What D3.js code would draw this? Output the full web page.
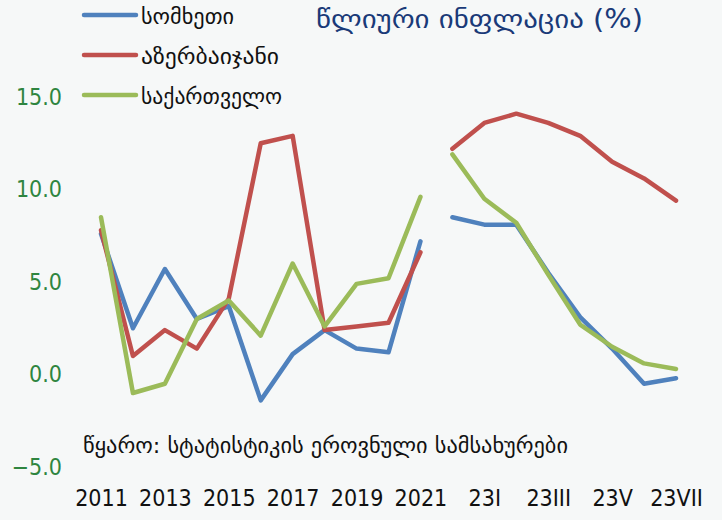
<!DOCTYPE html>
<html>
<head>
<meta charset="utf-8">
<script src="https://cdn.jsdelivr.net/npm/d3@7"></script>
<style>
  body { margin: 0; background: #f6f8f8; }
  svg { display: block; font-family: "DejaVu Sans Condensed", "DejaVu Sans", sans-serif; }
</style>
</head>
<body>
<div id="chart"></div>
<script>
/* annual inflation: Armenia, Azerbaijan, Georgia */

const years = ["2011", "2012", "2013", "2014", "2015", "2016", "2017", "2018", "2019", "2020", "2021"];
const months = ["22XII", "23I", "23II", "23III", "23IV", "23V", "23VI", "23VII"];
const categories = years.concat(months);

const seriesNames = ["სომხეთი", "აზერბაიჯანი", "საქართველო"];
const seriesColors = ["#4f81bd", "#c0504d", "#9bbb59"];

// yearly values
const armeniaYears = [7.6, 2.5, 5.7, 3.0, 3.7, -1.4, 1.1, 2.4, 1.4, 1.2, 7.2];
const azerbaijanYears = [7.8, 1.0, 2.4, 1.4, 4.1, 12.5, 12.9, 2.4, 2.6, 2.8, 6.6];
const georgiaYears = [8.5, -1.0, -0.5, 3.0, 4.0, 2.1, 6.0, 2.6, 4.9, 5.2, 9.6];

// monthly values
const armeniaMonths = [8.5, 8.1, 8.1, 5.5, 3.1, 1.4, -0.5, -0.2];
const azerbaijanMonths = [12.2, 13.6, 14.1, 13.6, 12.9, 11.5, 10.6, 9.4];
const georgiaMonths = [11.9, 9.5, 8.2, 5.4, 2.7, 1.5, 0.6, 0.3];

const yTicks = [-5, 0, 5, 10, 15];

const width = 722, height = 520;

let svg = d3.select("#chart")
    .append("svg")
    .attr("width", width)
    .attr("height", height);

svg.append("rect")
    .attr("width", width)
    .attr("height", height)
    .attr("fill", "#f6f8f8");

let x = d3.scalePoint()
    .domain(categories)
    .range([101, 676]);

let y = d3.scaleLinear()
    .domain([-5, 15])
    .range([467, 97]);

// y axis labels only, no line
svg.append("g")
    .attr("transform", "translate(62,0)")
    .call(d3.axisLeft(y).tickValues(yTicks).tickFormat(d3.format(".1f")).tickSize(0).tickPadding(0))
    .call(g => g.select(".domain").remove())
    .call(g => g.selectAll("text")
        .attr("fill", "#2e8540")
        .attr("font-size", 23)
        .attr("font-family", "DejaVu Sans Condensed"));

// x axis labels, every other category
svg.append("g")
    .attr("transform", "translate(0,490)")
    .call(d3.axisBottom(x).tickSize(0).tickPadding(0)
        .tickFormat((d, i) => i % 2 === 0 ? d : ""))
    .call(g => g.select(".domain").remove())
    .call(g => g.selectAll("text")
        .attr("fill", "#111")
        .attr("font-size", 23)
        .attr("font-family", "DejaVu Sans Condensed"));

const line = d3.line()
    .x(d => x(d.cat))
    .y(d => y(d.val));

const series = [
    [armeniaYears, armeniaMonths],
    [azerbaijanYears, azerbaijanMonths],
    [georgiaYears, georgiaMonths]
];

series.forEach((s, i) => {
    let parts = [
        years.map((c, j) => ({cat: c, val: s[0][j]})),
        months.map((c, j) => ({cat: c, val: s[1][j]}))
    ];
    parts.forEach(p => {
        svg.append("path")
            .datum(p)
            .attr("fill", "none")
            .attr("stroke", seriesColors[i])
            .attr("stroke-width", 4.5)
            .attr("stroke-linejoin", "round")
            .attr("stroke-linecap", "round")
            .attr("d", line);
    });
});

// legend
const legendWidths = [93, 138, 141]; // stretch georgian labels to match

let legend = svg.selectAll(".legend")
    .data(seriesNames)
    .join("g")
    .attr("class", "legend")
    .attr("transform", (d, i) => `translate(0, ${15 + i * 40})`);

legend.append("line")
    .attr("x1", 84).attr("x2", 136)
    .attr("stroke", (d, i) => seriesColors[i])
    .attr("stroke-width", 4.5)
    .attr("stroke-linecap", "round");

legend.append("text")
    .attr("x", 141)
    .attr("y", 9)
    .attr("font-size", 21)
    .attr("font-family", "DejaVu Sans")
    .attr("textLength", (d, i) => legendWidths[i])
    .attr("lengthAdjust", "spacingAndGlyphs")
    .attr("fill", "#111")
    .text(d => d);

// title
svg.append("text")
    .attr("x", 316)
    .attr("y", 28)
    .attr("font-size", 26)
    .attr("font-family", "DejaVu Sans")
    .attr("textLength", 327)
    .attr("lengthAdjust", "spacingAndGlyphs")
    .attr("fill", "#1a3a78")
    .text("წლიური ინფლაცია (%)");

// source
svg.append("text")
    .attr("x", 83)
    .attr("y", 453)
    .attr("font-size", 22)
    .attr("font-family", "DejaVu Sans")
    .attr("textLength", 485)
    .attr("lengthAdjust", "spacingAndGlyphs")
    .attr("fill", "#111")
    .text("წყარო: სტატისტიკის ეროვნული სამსახურები");
</script>
</body>
</html>
